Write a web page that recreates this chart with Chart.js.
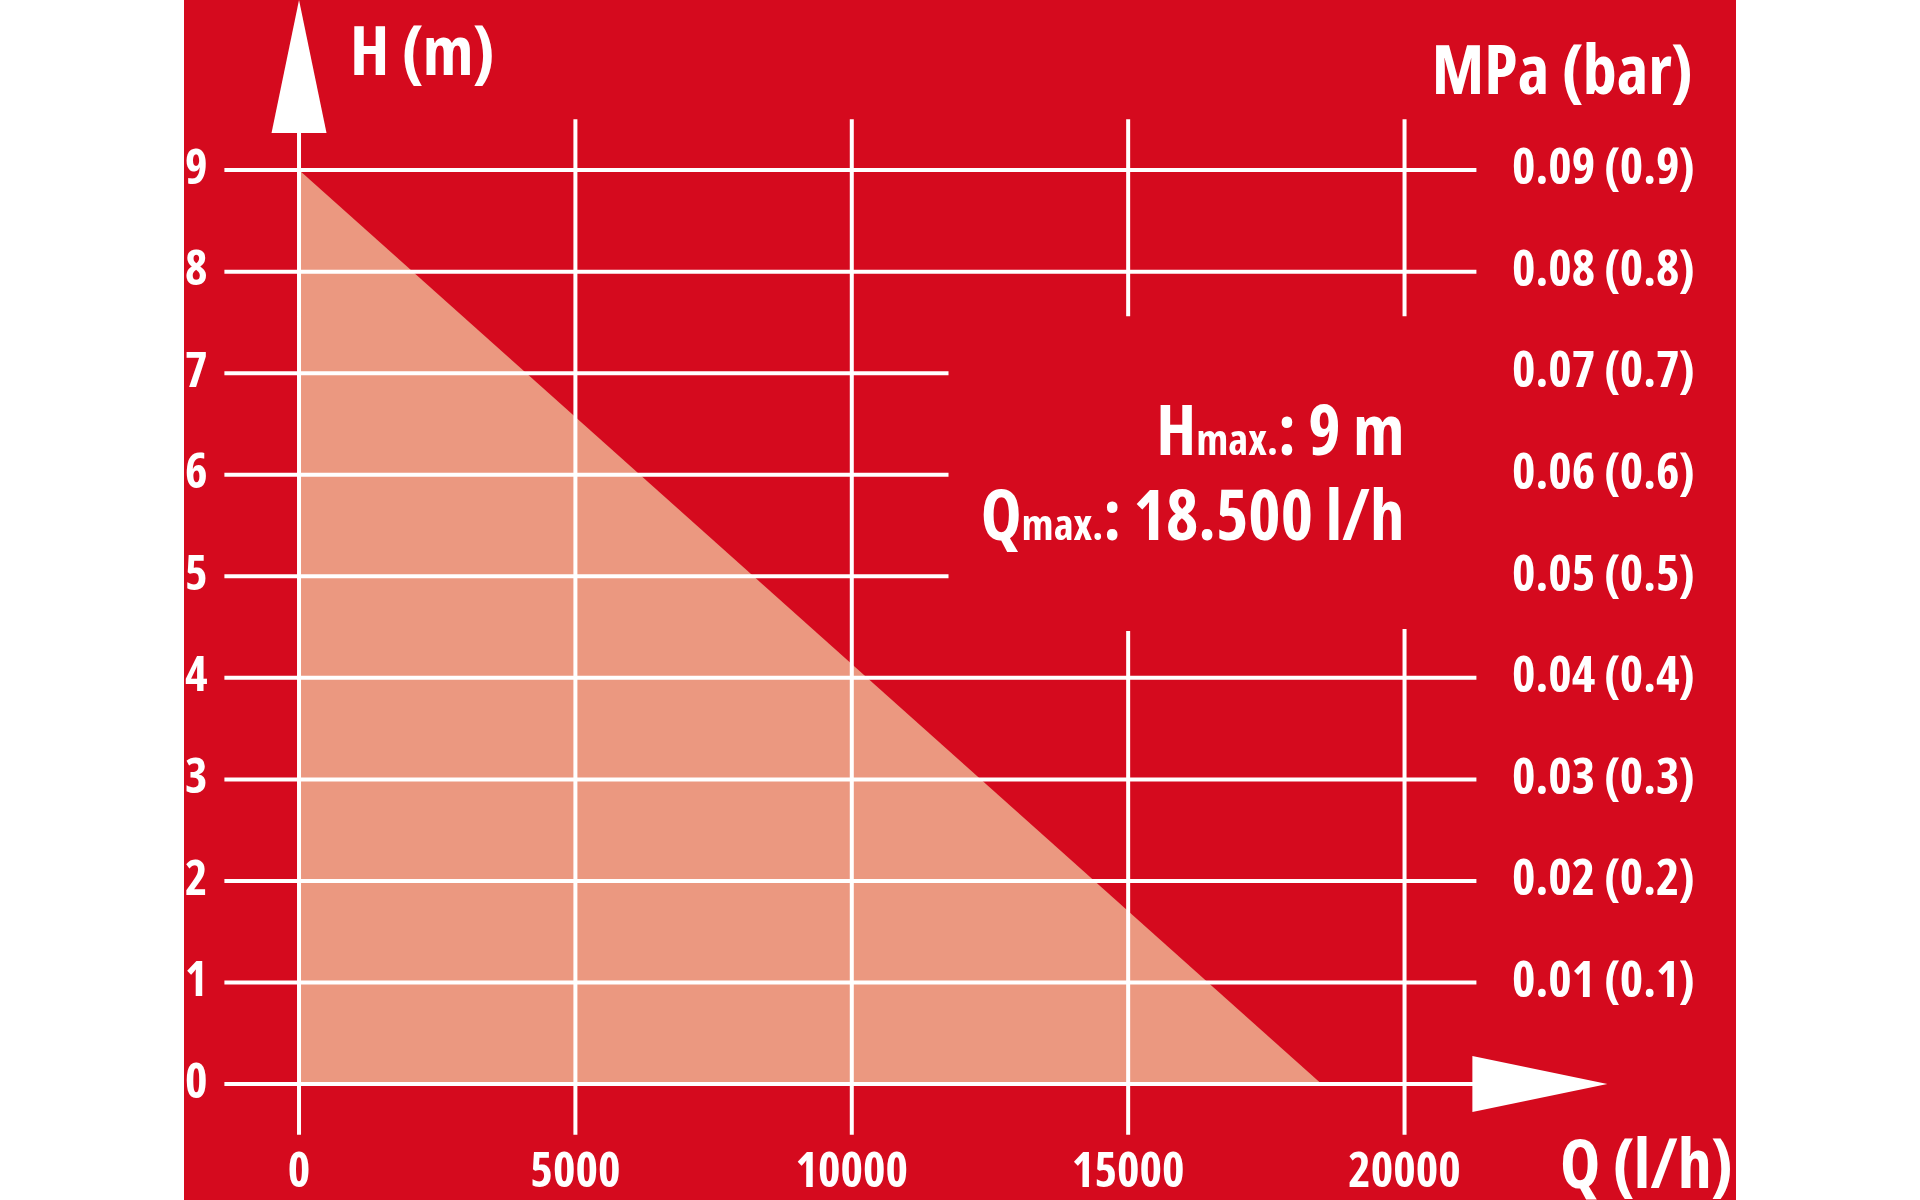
<!DOCTYPE html>
<html>
<head>
<meta charset="utf-8">
<script src="https://cdn.jsdelivr.net/npm/chart.js@4.4.1/dist/chart.umd.min.js"></script>
<style>
  html, body { margin: 0; padding: 0; background: #fff; }
  canvas { display: block; }
</style>
</head>
<body>
<canvas id="pumpChart" width="1920" height="1200"></canvas>
<script>
// pump curve: delivery head H against flow Q
const flowTicks = [0, 5000, 10000, 15000, 20000];
const headTicks = [0, 1, 2, 3, 4, 5, 6, 7, 8, 9];
const pressureLabels = ['', '0.01 (0.1)', '0.02 (0.2)', '0.03 (0.3)', '0.04 (0.4)',
  '0.05 (0.5)', '0.06 (0.6)', '0.07 (0.7)', '0.08 (0.8)', '0.09 (0.9)'];
const curveFlow = [0, 18500];
const curveHead = [9, 0];
const maxTexts = [['H', 'max.', ': 9 m'], ['Q', 'max.', ': 18.500 l/h']];

const RED = '#d50a1e';
const SALMON = '#eb9880';
const WHITE = '#ffffff';

// pick the narrowest-looking bold face that is actually installed
const probe = document.createElement('canvas').getContext('2d');
const faces = [
  ['bold', '"Liberation Sans Narrow"'],
  ['bold condensed', '"Noto Sans"'],
  ['bold condensed', '"Open Sans"'],
  ['bold semi-condensed', '"Noto Sans"'],
  ['bold', '"DejaVu Sans Condensed"']
];
function digitEm(weight, family) {
  probe.font = '100px monospace';
  probe.font = `${weight} 100px ${family}`;
  return probe.measureText('0123456789').width / 1000;
}
let face = faces[faces.length - 1], err = Infinity;
faces.forEach(f => {
  const e = Math.abs(digitEm(f[0], f[1]) - 0.47);
  if (e < err) { err = e; face = f; }
});
const WEIGHT = face[0];
const FONT = face[1] + ', "DejaVu Sans Condensed", sans-serif';
const fontStr = size => `${WEIGHT} ${size}px ${FONT}`;

const tickFont = { family: FONT, size: 48, weight: WEIGHT };

// grid segments (in data units), partly broken around the text box
const hEnd = v => (v >= 5 && v <= 7) ? 11750 : 21300;
const vSegments = {
  0: [[-0.5, null]],
  5000: [[-0.5, 9.5]],
  10000: [[-0.5, 9.5]],
  15000: [[-0.5, 4.46], [7.56, 9.5]],
  20000: [[-0.5, 4.48], [7.56, 9.5]]
};

const panel = {
  id: 'panel',
  beforeDraw(chart) {
    const ctx = chart.ctx;
    ctx.save();
    ctx.fillStyle = WHITE;
    ctx.fillRect(0, 0, chart.width, chart.height);
    ctx.fillStyle = RED;
    ctx.fillRect(184, 0, 1552, chart.height);
    ctx.restore();
  },
  afterDatasetsDraw(chart) {
    const ctx = chart.ctx;
    const xs = chart.scales.x, ys = chart.scales.y;
    const x0 = xs.getPixelForValue(0), y0 = ys.getPixelForValue(0);
    ctx.save();
    ctx.strokeStyle = WHITE;
    ctx.lineWidth = 4;
    ctx.lineCap = 'butt';
    ctx.beginPath();
    headTicks.forEach(v => {
      const y = ys.getPixelForValue(v);
      ctx.moveTo(xs.getPixelForValue(-1350), y);
      ctx.lineTo(xs.getPixelForValue(hEnd(v)), y);
    });
    flowTicks.forEach(v => {
      const x = xs.getPixelForValue(v);
      vSegments[v].forEach(([a, b]) => {
        ctx.moveTo(x, ys.getPixelForValue(a));
        ctx.lineTo(x, b === null ? 132 : ys.getPixelForValue(b));
      });
    });
    ctx.stroke();
    // arrow heads
    ctx.fillStyle = WHITE;
    ctx.beginPath();
    ctx.moveTo(x0, 0);
    ctx.lineTo(x0 + 27.5, 133);
    ctx.lineTo(x0 - 27.5, 133);
    ctx.closePath();
    ctx.fill();
    const ax = chart.chartArea.right - 4;
    ctx.beginPath();
    ctx.moveTo(ax, y0 - 28);
    ctx.lineTo(ax + 135, y0);
    ctx.lineTo(ax, y0 + 28);
    ctx.closePath();
    ctx.fill();
    ctx.restore();
  },
  afterDraw(chart) {
    const ctx = chart.ctx;
    const xs = chart.scales.x, ys = chart.scales.y;
    ctx.save();
    ctx.fillStyle = WHITE;
    ctx.textBaseline = 'alphabetic';
    ctx.font = fontStr(68);
    ctx.textAlign = 'left';
    ctx.fillText('H (m)', 350, 75);
    ctx.textAlign = 'right';
    ctx.fillText('MPa (bar)', 1693, 94);
    ctx.fillText('Q (l/h)', 1733, 1188);

    // Hmax / Qmax note, right aligned on the 20000 line
    const right = xs.getPixelForValue(20000);
    const baselines = [ys.getPixelForValue(6.19), ys.getPixelForValue(5.36)];
    ctx.textAlign = 'left';
    const fonts = [fontStr(69), fontStr(43), fontStr(69)];
    maxTexts.forEach((parts, i) => {
      let w = 0;
      parts.forEach((p, j) => { ctx.font = fonts[j]; w += ctx.measureText(p).width; });
      let x = right - w;
      parts.forEach((p, j) => {
        ctx.font = fonts[j];
        ctx.fillText(p, x, baselines[i]);
        x += ctx.measureText(p).width;
      });
    });
    ctx.restore();
  }
};

const setTicks = list => scale => { scale.ticks = list.map(v => ({ value: v })); };
const fixBox = (w, h) => s => {
  if (w !== null) s.width = w;
  if (h !== null) s.height = h;
  s.paddingTop = s.paddingBottom = s.paddingLeft = s.paddingRight = 0;
};
const noGrid = { display: false, drawTicks: false };

new Chart('pumpChart', {
  type: 'line',
  data: {
    datasets: [{
      data: curveFlow.map((q, i) => ({ x: q, y: curveHead[i] })),
      fill: 'origin',
      backgroundColor: SALMON,
      borderWidth: 0,
      pointRadius: 0,
      tension: 0
    }]
  },
  options: {
    responsive: false,
    devicePixelRatio: 1,
    animation: false,
    layout: { padding: { left: 184, right: 0, top: 119.3, bottom: 0 } },
    plugins: { legend: { display: false }, tooltip: { enabled: false } },
    scales: {
      x: {
        type: 'linear', min: -1350, max: 21300,
        afterBuildTicks: setTicks(flowTicks),
        afterFit: fixBox(null, 65.2),
        ticks: { color: WHITE, font: tickFont, padding: 10, maxRotation: 0, autoSkip: false,
          callback: v => String(v) },
        grid: noGrid, border: { display: false }
      },
      y: {
        type: 'linear', position: 'left', min: -0.5, max: 9.5,
        afterBuildTicks: setTicks(headTicks),
        afterFit: fixBox(40.4, null),
        ticks: { color: WHITE, font: tickFont, padding: 17, autoSkip: false,
          callback: v => String(v) },
        grid: noGrid, border: { display: false }
      },
      y2: {
        type: 'linear', position: 'right', min: -0.5, max: 9.5,
        afterBuildTicks: setTicks(headTicks),
        afterFit: fixBox(443.6, null),
        ticks: { color: WHITE, font: { family: FONT, size: 50, weight: WEIGHT },
          padding: 35.6, autoSkip: false, callback: v => pressureLabels[v] },
        grid: noGrid, border: { display: false }
      }
    }
  },
  plugins: [panel]
});
</script>
</body>
</html>
